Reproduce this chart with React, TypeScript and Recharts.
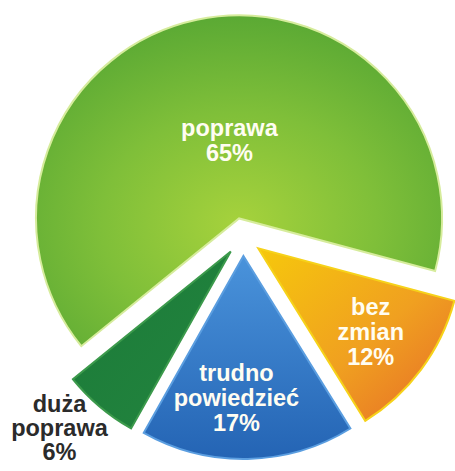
import { PieChart, Pie, Sector, Cell } from 'recharts';

const CATEGORIES = ['poprawa', 'duża poprawa', 'trudno powiedzieć', 'bez zmian'];
const SHARES = [65, 6, 17, 12];

const data = CATEGORIES.map((name, i) => ({ name, value: SHARES[i] }));

// visual styling per slice (same order as CATEGORIES)
const FILLS = ['url(#gPoprawa)', 'url(#gDuza)', 'url(#gTrudno)', 'url(#gBez)'];
const STROKES = ['#d6ec9c', '#3c9a4c', '#5b9ee0', '#f6d21a'];
// label radius as fraction of outer radius, plus small angle nudge
const LABEL_RADIUS = [0.39, 1.21, 0.7, 0.69];
const LABEL_NUDGE = [-5, -4, -4, 0];
const EXPLODE = 19;
const RAD = Math.PI / 180;

function ExplodedSector(props: any) {
  const { cx, cy, midAngle } = props;
  const dx = EXPLODE * Math.cos(-midAngle * RAD);
  const dy = EXPLODE * Math.sin(-midAngle * RAD);
  return <Sector {...props} cx={cx + dx} cy={cy + dy} />;
}

function renderLabel(props: any) {
  const { cx, cy, midAngle, outerRadius, index, name, value } = props;
  const ox = cx + EXPLODE * Math.cos(-midAngle * RAD);
  const oy = cy + EXPLODE * Math.sin(-midAngle * RAD);
  const ang = midAngle + LABEL_NUDGE[index];
  const r = outerRadius * LABEL_RADIUS[index];
  const x = ox + r * Math.cos(-ang * RAD);
  const y = oy + r * Math.sin(-ang * RAD);
  const outside = LABEL_RADIUS[index] > 1;
  const fs = 23.5;
  const lh = outside ? 24 : 25;
  const lines = [...String(name).split(' '), `${value}%`];
  const y0 = y - ((lines.length - 1) / 2) * lh + fs * 0.36;
  return (
    <text
      key={`lbl-${index}`}
      x={x}
      y={y0}
      textAnchor="middle"
      fill={outside ? '#2b2b2b' : '#fffdf2'}
      fontFamily="'Liberation Sans', Arial, sans-serif"
      fontWeight="bold"
      fontSize={fs}
    >
      {lines.map((t, i) => (
        <tspan key={i} x={x} dy={i === 0 ? 0 : lh}>
          {t}
        </tspan>
      ))}
    </text>
  );
}

export default function App() {
  return (
    <div style={{ position: 'absolute', left: 0, top: 0, width: 455, height: 471, background: '#fff' }}>
      <PieChart width={455} height={471} margin={{ top: 0, right: 0, bottom: 0, left: 0 }}>
        <defs>
          <radialGradient id="gPoprawa" cx="0.5" cy="0.63" r="0.62">
            <stop offset="0%" stopColor="#a6d23c" />
            <stop offset="55%" stopColor="#7fbf39" />
            <stop offset="100%" stopColor="#5caa34" />
          </radialGradient>
          <linearGradient id="gDuza" x1="0" y1="0" x2="1" y2="1">
            <stop offset="0%" stopColor="#1b7a38" />
            <stop offset="100%" stopColor="#23853f" />
          </linearGradient>
          <linearGradient id="gTrudno" x1="0" y1="0" x2="0" y2="1">
            <stop offset="0%" stopColor="#4a93db" />
            <stop offset="100%" stopColor="#2464b4" />
          </linearGradient>
          <linearGradient id="gBez" x1="0" y1="0" x2="1" y2="1">
            <stop offset="0%" stopColor="#f6c80c" />
            <stop offset="55%" stopColor="#f0a020" />
            <stop offset="100%" stopColor="#e66a28" />
          </linearGradient>
        </defs>
        <Pie
          data={data}
          dataKey="value"
          nameKey="name"
          cx={243}
          cy={237}
          outerRadius={203}
          startAngle={-15}
          endAngle={345}
          shape={ExplodedSector}
          label={renderLabel}
          labelLine={false}
          isAnimationActive={false}
        >
          {data.map((d, i) => (
            <Cell key={d.name} fill={FILLS[i]} stroke={STROKES[i]} strokeWidth={2} />
          ))}
        </Pie>
      </PieChart>
    </div>
  );
}
